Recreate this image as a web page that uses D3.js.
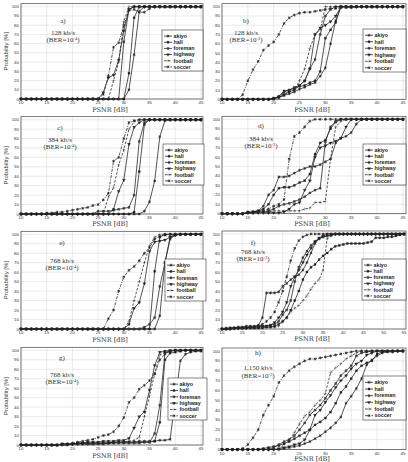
<!DOCTYPE html>
<html>
<head>
<meta charset="UTF-8">
<script src="https://d3js.org/d3.v7.min.js"></script>
<style>
  body { margin: 0; background: #fff; }
  svg { display: block; }
  .tick-label { font-family: Arial, sans-serif; font-size: 4.4px; fill: #333; }
  .axis-title { font-family: "DejaVu Serif", serif; font-size: 6.5px; fill: #333; }
  .ylab { font-family: Arial, sans-serif; font-size: 6px; fill: #333; }
  .note { font-family: "Liberation Serif", serif; font-size: 7px; fill: #333; }
  .leg { font-family: Arial, sans-serif; font-size: 5.3px; font-weight: bold; fill: #222; }
</style>
</head>
<body>
<svg width="408" height="462"></svg>
<script>
// series names, in legend order
const seriesNames = ["akiyo", "hall", "foreman", "highway", "football", "soccer"];
const xStart = 10; // first PSNR value of every series, 1 dB apart

// a) 128 kb/s, BER=10^-4
const aAkiyo    = [0,0,0,0,0,0,0,0,0,0,0,0,0,0,0,0,0,0,0,0,0,10,48,95,100,100,100,100,100,100,100,100,100,100,100,100];
const aHall     = [0,0,0,0,0,0,0,0,0,0,0,0,0,0,0,0,0,0,0,0,0,28,88,100,100,100,100,100,100,100,100,100,100,100,100,100];
const aForeman  = [0,0,0,0,0,0,0,0,0,0,0,0,0,0,0,0,0,0,0,0,62,97,100,100,100,100,100,100,100,100,100,100,100,100,100,100];
const aHighway  = [0,0,0,0,0,0,0,0,0,0,0,0,0,0,0,0,7,23,26,42,74,97,100,100,100,100,100,100,100,100,100,100,100,100,100,100];
const aFootball = [0,0,0,0,0,0,0,0,0,0,0,0,0,0,0,0,0,0,20,40,84,100,100,100,100,100,100,100,100,100,100,100,100,100,100,100];
const aSoccer   = [0,0,0,0,0,0,0,0,0,0,0,0,0,0,0,0,5,25,56,61,80,96,97,94,94,98,100,100,100,100,100,100,100,100,100,100];

// b) 128 kb/s, BER=10^-3
const bAkiyo    = [0,0,0,0,0,0,0,0,0,0,1,2,4,6,8,11,13,16,18,25,34,60,85,100,100,100,100,100,100,100,100,100,100,100,100,100];
const bHall     = [0,0,0,0,0,0,0,0,0,0,0,3,9,10,12,14,15,18,20,30,66,75,83,100,100,100,100,100,100,100,100,100,100,100,100,100];
const bForeman  = [0,0,0,0,0,0,0,0,0,0,1,3,8,10,13,15,20,33,43,70,90,97,100,100,100,100,100,100,100,100,100,100,100,100,100,100];
const bHighway  = [0,0,0,0,0,0,0,0,0,0,1,2,5,8,10,15,20,33,70,77,80,84,90,100,100,100,100,100,100,100,100,100,100,100,100,100];
const bFootball = [0,0,0,0,0,0,0,0,0,0,1,3,6,8,10,20,33,55,70,75,100,100,100,100,100,100,100,100,100,100,100,100,100,100,100,100];
const bSoccer   = [0,0,0,0,5,20,32,41,53,58,62,70,82,88,91,93,94,94,95,96,97,98,98,99,99,99,100,100,100,100,100,100,100,100,100,100];

// c) 384 kb/s, BER=10^-4
const cAkiyo    = [0,0,0,0,0,0,0,0,0,0,0,0,0,0,0,0,0,0,0,0,0,0,0,0,3,13,35,82,99,100,100,100,100,100,100,100];
const cHall     = [0,0,0,0,0,0,0,0,0,0,0,0,0,0,0,0,0,0,0,0,0,0,2,45,95,100,100,100,100,100,100,100,100,100,100,100];
const cForeman  = [0,0,0,0,0,0,0,0,0,0,0,0,0,0,0,3,3,3,4,5,6,7,20,77,97,100,100,100,100,100,100,100,100,100,100,100];
const cHighway  = [0,0,0,0,0,0,0,0,0,0,0,0,0,0,0,0,0,0,5,24,36,74,92,97,100,100,100,100,100,100,100,100,100,100,100,100];
const cFootball = [0,0,0,0,0,0,0,0,0,0,0,0,0,0,0,0,0,18,28,52,68,90,98,100,100,100,100,100,100,100,100,100,100,100,100,100];
const cSoccer   = [0,0,0,0,0,1,1,2,2,3,4,5,6,7,9,10,15,22,56,60,80,97,99,100,100,100,100,100,100,100,100,100,100,100,100,100];

// d) 384 kb/s, BER=10^-3
const dAkiyo    = [0,0,0,0,0,1,2,3,8,20,25,39,39,40,43,46,48,50,50,52,55,58,75,80,82,86,95,100,100,100,100,100,100,100,100,100];
const dHall     = [0,0,0,0,0,1,2,3,5,10,20,27,28,28,30,33,35,42,63,75,78,90,97,100,100,100,100,100,100,100,100,100,100,100,100,100];
const dForeman  = [0,0,0,0,0,1,1,2,2,3,5,8,10,11,13,15,18,22,25,27,76,92,98,100,100,100,100,100,100,100,100,100,100,100,100,100];
const dHighway  = [0,0,0,0,0,1,1,1,1,1,1,1,2,5,10,12,25,35,60,70,72,75,77,80,92,100,100,100,100,100,100,100,100,100,100,100];
const dFootball = [0,0,0,0,0,1,1,2,2,2,3,3,3,3,3,3,5,6,12,12,13,58,92,98,100,100,100,100,100,100,100,100,100,100,100,100];
const dSoccer   = [0,0,0,0,0,2,2,3,3,5,8,10,15,58,82,86,92,98,100,100,100,100,100,100,100,100,100,100,100,100,100,100,100,100,100,100];

// e) 768 kb/s, BER=10^-4
const eAkiyo    = [0,0,0,0,0,0,0,0,0,0,0,0,0,0,0,0,0,0,0,0,0,0,0,0,0,0,0,14,70,95,99,100,100,100,100,100];
const eHall     = [0,0,0,0,0,0,0,0,0,0,0,0,0,0,0,0,0,0,0,0,0,0,0,0,0,0,61,97,100,100,100,100,100,100,100,100];
const eForeman  = [0,0,0,0,0,0,0,0,0,0,0,0,0,0,0,0,0,0,0,0,0,0,0,0,2,5,12,45,70,97,100,100,100,100,100,100];
const eHighway  = [0,0,0,0,0,0,0,0,0,0,0,0,0,0,0,0,0,0,0,0,0,5,22,28,48,82,92,93,94,97,99,100,100,100,100,100];
const eFootball = [0,0,0,0,0,0,0,0,0,0,0,0,0,0,0,0,0,0,0,0,0,8,30,50,70,88,97,100,100,100,100,100,100,100,100,100];
const eSoccer   = [0,0,0,0,0,0,0,0,0,0,0,0,0,0,0,0,0,11,20,40,55,62,66,72,80,86,95,98,99,100,100,100,100,100,100,100];

// f) 768 kb/s, BER=10^-3 (PSNR up to 55 dB)
const fAkiyo    = [0,1,1,1,2,2,3,3,3,4,12,38,38,38,39,45,48,52,55,57,62,70,80,90,95,97,98,99,100,100,100,100,100,100,100,100,100,100,100,100,100,100,100,100,100,100];
const fHall     = [0,0,1,1,1,1,1,1,1,1,1,2,2,3,5,8,12,20,30,40,52,60,65,68,73,77,80,84,87,88,89,90,90,90,90,90,91,92,96,96,96,97,97,98,99,100];
const fForeman  = [0,0,0,1,1,1,1,2,2,2,3,3,4,5,8,15,20,30,50,65,75,82,88,92,95,97,98,99,100,100,100,100,100,100,100,100,100,100,100,100,100,100,100,100,100,100];
const fHighway  = [0,0,0,1,1,1,1,2,2,3,3,3,4,7,12,18,28,45,55,62,70,78,85,92,96,98,100,100,100,100,100,100,100,100,100,100,100,100,100,100,100,100,100,100,100,100];
const fFootball = [0,0,0,0,1,1,1,1,1,1,2,2,2,2,3,8,12,18,22,25,30,35,42,48,52,62,95,98,100,100,100,100,100,100,100,100,100,100,100,100,100,100,100,100,100,100];
const fSoccer   = [0,0,1,1,1,1,2,2,2,3,5,8,12,18,28,40,55,72,85,93,97,99,100,100,100,100,100,100,100,100,100,100,100,100,100,100,100,100,100,100,100,100,100,100,100,100];

// g) 768 kb/s, BER=10^-4
const gAkiyo    = [0,0,0,0,0,0,0,0,1,1,1,1,2,2,2,2,2,2,3,3,3,3,3,4,4,4,4,5,5,6,48,89,96,98,99,99];
const gHall     = [0,0,0,0,0,0,0,0,1,1,1,2,2,2,2,2,2,2,3,3,3,3,3,3,3,3,4,24,90,97,98,99,100,100,100,100];
const gForeman  = [0,0,0,0,0,0,0,0,0,0,1,1,1,1,1,1,1,2,2,2,2,2,2,2,3,3,12,42,97,99,100,100,100,100,100,100];
const gHighway  = [0,0,0,0,0,0,0,0,1,1,1,2,2,3,3,3,4,4,4,5,5,7,18,30,35,58,84,98,99,100,100,100,100,100,100,100];
const gFootball = [0,0,0,0,0,0,0,0,0,0,1,1,1,1,1,2,2,2,2,3,3,4,5,8,30,52,75,95,98,99,100,100,100,100,100,100];
const gSoccer   = [0,0,0,0,0,0,0,0,1,1,2,3,4,5,6,8,10,11,14,20,29,45,50,59,63,68,75,90,96,99,100,100,100,100,100,100];

// h) 1,150 kb/s, BER=10^-3
const hAkiyo    = [0,0,0,0,0,0,0,0,0,0,0,0,1,2,3,4,6,8,11,14,18,22,27,33,47,54,62,72,86,91,95,98,99,99,100,100];
const hHall     = [0,0,0,0,0,0,0,0,1,2,3,4,6,8,11,14,17,20,25,28,32,38,47,58,64,72,80,85,88,90,97,99,100,100,100,100];
const hForeman  = [0,0,0,0,0,0,0,0,0,0,2,5,8,10,14,20,27,35,40,45,52,60,67,75,80,85,95,98,99,100,100,100,100,100,100,100];
const hHighway  = [0,0,0,0,0,0,0,0,0,0,0,1,2,3,5,6,10,20,35,40,48,55,63,70,75,82,87,90,96,98,100,100,100,100,100,100];
const hFootball = [0,0,0,0,0,0,0,0,0,0,0,0,5,10,17,26,34,38,45,50,57,78,83,87,92,95,98,100,100,100,100,100,100,100,100,100];
const hSoccer   = [0,0,0,0,1,5,12,20,35,45,54,68,75,80,84,87,90,92,92,93,94,95,96,97,98,99,100,100,100,100,100,100,100,100,100,100];

const letters = ["a)", "b)", "c)", "d)", "e)", "f)", "g)", "h)"];
const rates = ["128 kb/s", "128 kb/s", "384 kb/s", "384 kb/s", "768 kb/s", "768 kb/s", "768 kb/s", "1,150 kb/s"];
const bers = ["-4", "-3", "-4", "-3", "-4", "-3", "-4", "-3"];
const xMaxTick = [45, 45, 45, 45, 45, 55, 45, 45];
const yTicks = [0, 10, 20, 30, 40, 50, 60, 70, 80, 90, 100];

const panelData = [
  [aAkiyo, aHall, aForeman, aHighway, aFootball, aSoccer],
  [bAkiyo, bHall, bForeman, bHighway, bFootball, bSoccer],
  [cAkiyo, cHall, cForeman, cHighway, cFootball, cSoccer],
  [dAkiyo, dHall, dForeman, dHighway, dFootball, dSoccer],
  [eAkiyo, eHall, eForeman, eHighway, eFootball, eSoccer],
  [fAkiyo, fHall, fForeman, fHighway, fFootball, fSoccer],
  [gAkiyo, gHall, gForeman, gHighway, gFootball, gSoccer],
  [hAkiyo, hHall, hForeman, hHighway, hFootball, hSoccer]
];

// placement of each panel (pixels)
const left = { x0: 21, x1: 203 }, right = { x0: 222, x1: 406 };
const layout = [
  { col: left,  y0: 99,  y100: 6.7,  xmax: 45.4, txt: [63, 23, 35, 42],   leg: [162, 30, 203, 71],  title: 111.5 },
  { col: right, y0: 99.3, y100: 6.7, xmax: 45.6, txt: [246, 23, 35, 42],  leg: [363, 29, 406, 72],  title: 111.5 },
  { col: left,  y0: 214, y100: 119.7, xmax: 45.4, txt: [60, 130, 142, 149], leg: [163, 144, 204, 185], title: 226 },
  { col: right, y0: 213.7, y100: 119.3, xmax: 45.6, txt: [261, 128, 141, 148], leg: [363, 144, 406, 185], title: 226 },
  { col: left,  y0: 329, y100: 234.3, xmax: 45.4, txt: [62, 245, 263, 270], leg: [165, 259, 206, 301], title: 342 },
  { col: right, y0: 329, y100: 234, xmax: 55.5, txt: [253, 245, 254, 261], leg: [362, 259, 406, 300], title: 341 },
  { col: left,  y0: 445, y100: 350.3, xmax: 45.4, txt: [62, 360, 377, 384], leg: [168, 378, 207, 420], title: 457.5 },
  { col: right, y0: 449.5, y100: 351, xmax: 45.6, txt: [258, 355, 370, 378], leg: [363, 376, 406, 420], title: 460.5 }
];

const styles = {
  akiyo:    { dash: null,          sym: d3.symbolAsterisk, size: 6, fill: "none" },
  hall:     { dash: null,          sym: d3.symbolSquare,   size: 4, fill: "#222" },
  foreman:  { dash: null,          sym: d3.symbolSquare,   size: 4, fill: "#444" },
  highway:  { dash: null,          sym: d3.symbolTriangle, size: 4, fill: "#222", rot: 180 },
  football: { dash: "2.5,1.5",     sym: d3.symbolPlus,     size: 5, fill: "#222" },
  soccer:   { dash: "3,1.2,1,1.2", sym: d3.symbolAsterisk, size: 6, fill: "none" }
};

const svg = d3.select("svg");

function drawMarker(g, name, x, y) {
  const st = styles[name];
  const p = g.append("path")
    .attr("d", d3.symbol(st.sym, st.size)())
    .attr("transform", `translate(${x},${y})` + (st.rot ? ` rotate(${st.rot})` : ""));
  if (st.sym === d3.symbolAsterisk) p.attr("fill", "none").attr("stroke", "#222").attr("stroke-width", 0.7);
  else p.attr("fill", st.fill).attr("stroke", "#222").attr("stroke-width", 0.3);
}

layout.forEach((L, pi) => {
  const x = d3.scaleLinear().domain([10, L.xmax]).range([L.col.x0, L.col.x1]);
  const y = d3.scaleLinear().domain([0, 100]).range([L.y0, L.y100]);
  const top = L.y100 - 3;
  const g = svg.append("g");

  // grid
  const xt = d3.range(10, xMaxTick[pi] + 1, 5);
  g.selectAll(".gx").data(xt).enter().append("line")
    .attr("x1", d => x(d)).attr("x2", d => x(d)).attr("y1", top).attr("y2", L.y0)
    .attr("stroke", "#d4d4d4").attr("stroke-width", 0.5);
  g.selectAll(".gy").data(yTicks).enter().append("line")
    .attr("x1", L.col.x0).attr("x2", L.col.x1).attr("y1", d => y(d)).attr("y2", d => y(d))
    .attr("stroke", "#d4d4d4").attr("stroke-width", 0.5);

  // frame
  g.append("rect").attr("x", L.col.x0).attr("y", top)
    .attr("width", L.col.x1 - L.col.x0).attr("height", L.y0 - top)
    .attr("fill", "none").attr("stroke", "#444").attr("stroke-width", 0.7);

  // tick labels
  g.selectAll(".xl").data(xt).enter().append("text").attr("class", "tick-label")
    .attr("x", d => x(d)).attr("y", L.y0 + 5).attr("text-anchor", "middle").text(d => d);
  g.selectAll(".yl").data(yTicks).enter().append("text").attr("class", "tick-label")
    .attr("x", L.col.x0 - 2).attr("y", d => y(d) + 1.5).attr("text-anchor", "end").text(d => d);

  // axis titles
  g.append("text").attr("class", "axis-title").attr("x", (L.col.x0 + L.col.x1) / 2 - 2)
    .attr("y", L.title).attr("text-anchor", "middle").text("PSNR [dB]");
  if (L.col === left) {
    g.append("text").attr("class", "ylab")
      .attr("transform", `translate(8,${(L.y0 + top) / 2}) rotate(-90)`)
      .attr("text-anchor", "middle").text("Probability [%]");
  }

  // series
  const line = d3.line().x(d => x(d[0])).y(d => y(d[1]));
  panelData[pi].forEach((vals, si) => {
    const name = seriesNames[si];
    const pts = vals.map((v, i) => [xStart + i, v]);
    g.append("path").datum(pts).attr("d", line)
      .attr("fill", "none").attr("stroke", "#2a2a2a").attr("stroke-width", 0.8)
      .attr("stroke-dasharray", styles[name].dash);
    pts.forEach(p => drawMarker(g, name, x(p[0]), y(p[1])));
  });

  // annotation
  const [tx, ty1, ty2, ty3] = L.txt;
  g.append("text").attr("class", "note").attr("x", tx).attr("y", ty1).attr("text-anchor", "middle").text(letters[pi]);
  g.append("text").attr("class", "note").attr("x", tx).attr("y", ty2).attr("text-anchor", "middle").text(rates[pi]);
  const b = g.append("text").attr("class", "note").attr("x", tx).attr("y", ty3).attr("text-anchor", "middle");
  b.append("tspan").text("(BER=10");
  b.append("tspan").attr("dy", -2.5).attr("font-size", "4.5px").text(bers[pi]);
  b.append("tspan").attr("dy", 2.5).text(")");

  // legend
  const [lx0, ly0, lx1, ly1] = L.leg;
  g.append("rect").attr("x", lx0).attr("y", ly0).attr("width", lx1 - lx0).attr("height", ly1 - ly0)
    .attr("fill", "#fff").attr("stroke", "#333").attr("stroke-width", 0.6);
  const step = (ly1 - ly0 - 4) / 6;
  seriesNames.forEach((name, si) => {
    const yy = ly0 + 4 + step * si + step / 2 - 1;
    g.append("line").attr("x1", lx0 + 2).attr("x2", lx0 + 10).attr("y1", yy).attr("y2", yy)
      .attr("stroke", "#2a2a2a").attr("stroke-width", 0.8).attr("stroke-dasharray", styles[name].dash);
    drawMarker(g, name, lx0 + 6, yy);
    g.append("text").attr("class", "leg").attr("x", lx0 + 11.5).attr("y", yy + 1.8).text(name);
  });
});
</script>
</body>
</html>
